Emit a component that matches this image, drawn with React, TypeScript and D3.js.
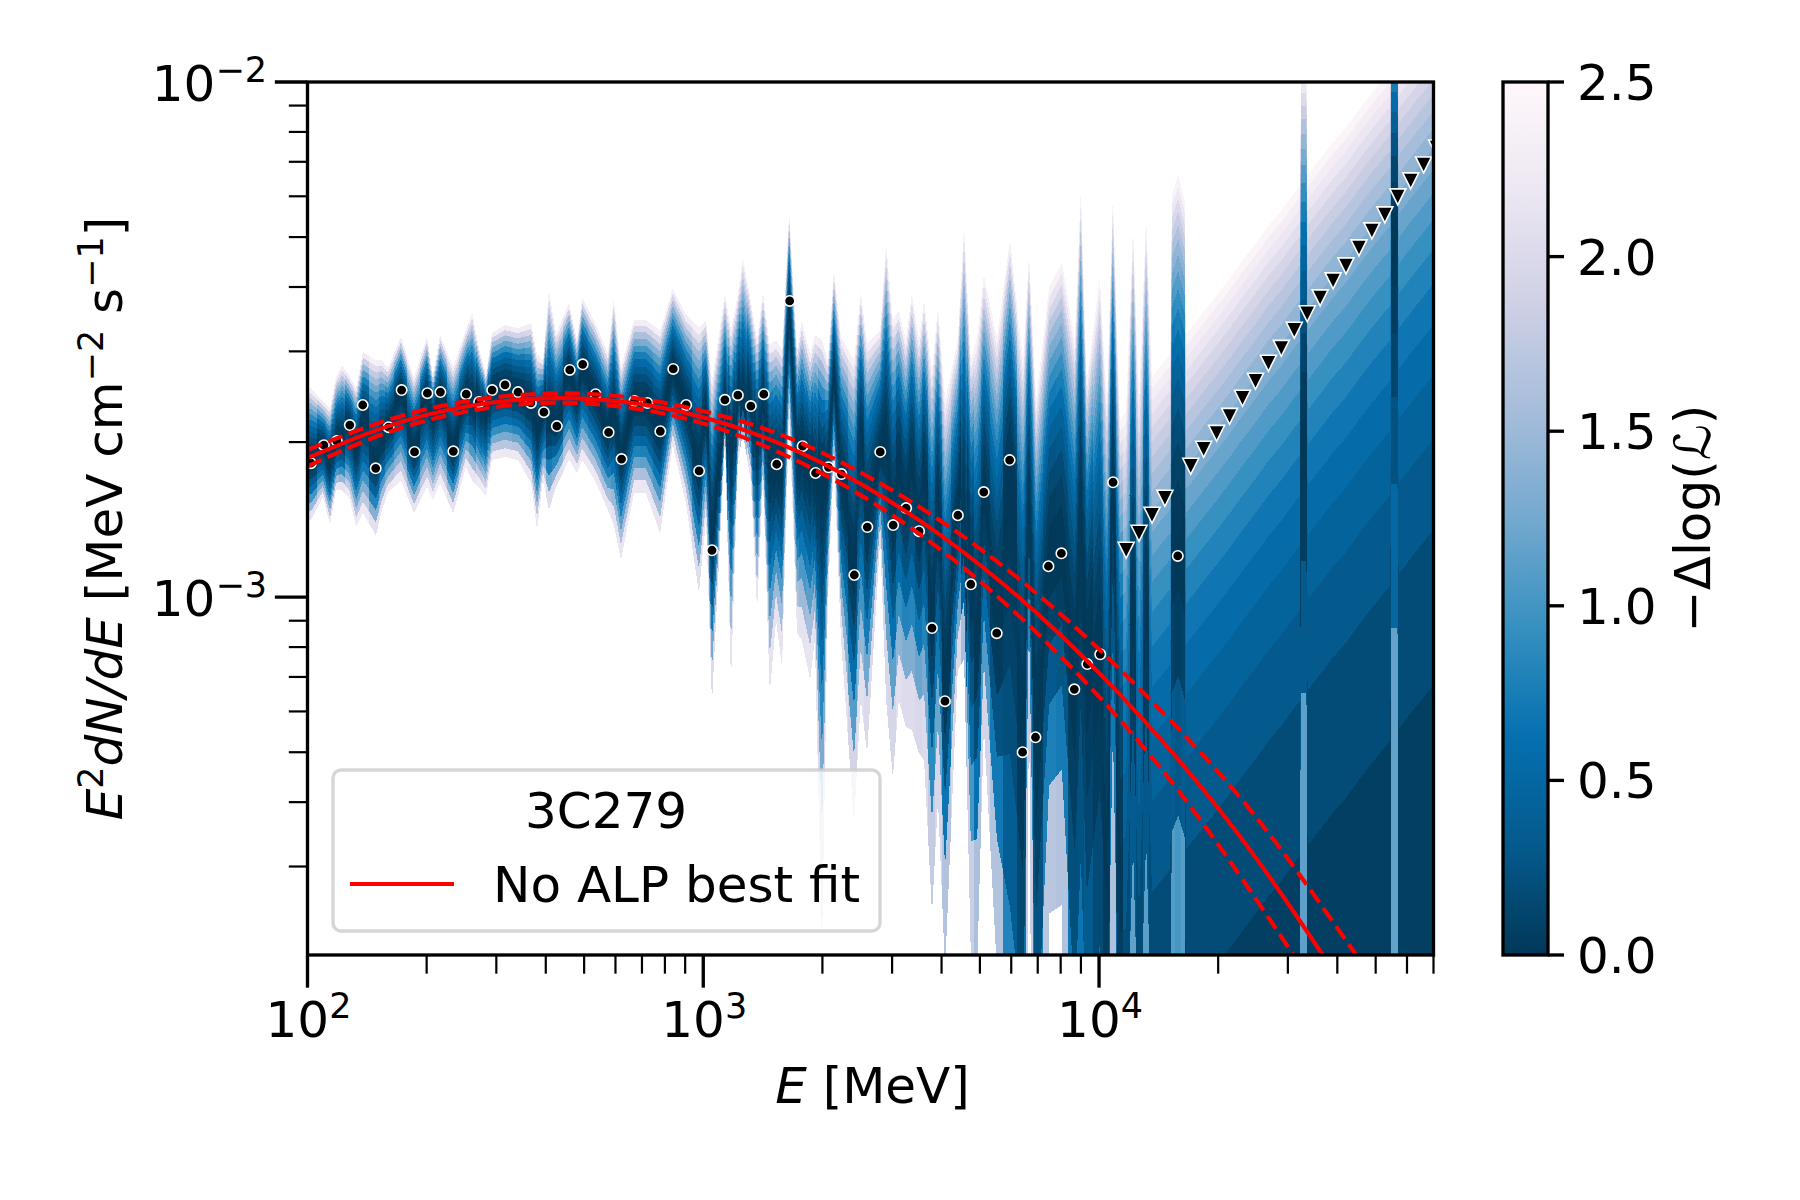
import React, { useEffect, useRef } from "react";
import * as d3 from "d3";

// Spectral bins of 3C279: energy in MeV, log10 of E2dN/dE
const binEnergy = [
  102, 110, 118.6, 127.9, 137.9, 148.7, 160.3, 172.9, 186.4, 200.9, 216.7, 233.6, 251.8, 271.5, 292.8,
  315.6, 340.4, 366.9, 395.6, 426.6, 459.9, 495.9, 534.6, 576.5, 621.6, 670.1, 722.4, 778.9, 839.7, 905.3,
  976.1, 1052, 1134, 1223, 1319, 1422, 1533, 1653, 1782, 1922, 2072, 2234, 2408, 2597, 2800,
  3019, 3255, 3510, 3784, 4080, 4399, 4743, 5114, 5514, 5944, 6410, 6910, 7451, 8033, 8661,
  9338, 10070, 10850, 11710, 12620, 13610, 14670, 15810, 17050, 18380, 19820, 21370, 23040, 24850, 26790,
  28880, 31140, 33570, 36200, 39030, 42070, 45370, 48910, 52740, 56860, 61310, 66090, 71260,
];
const binLogFlux = [
  -2.74, -2.705, -2.697, -2.666, -2.627, -2.75, -2.67, -2.598, -2.718, -2.604, -2.602, -2.717, -2.606, -2.621, -2.598,
  -2.588, -2.602, -2.623, -2.641, -2.668, -2.559, -2.548, -2.606, -2.68, -2.732, -2.619, -2.623, -2.678, -2.557, -2.627,
  -2.755, -2.909, -2.617, -2.608, -2.629, -2.606, -2.742, -2.425, -2.707, -2.759, -2.748, -2.761, -2.957, -2.864, -2.718,
  -2.86, -2.827, -2.872, -3.06, -3.202, -2.841, -2.975, -2.796, -3.07, -2.734, -3.301, -3.272, -2.94, -2.915, -3.179,
  -3.13, -3.111, -2.777, -2.909, -2.876, -2.841, -2.808, -2.92, -2.746, -2.713, -2.682, -2.649, -2.614, -2.581, -2.546,
  -2.517, -2.482, -2.45, -2.419, -2.386, -2.357, -2.322, -2.289, -2.258, -2.223, -2.192, -2.161, -2.128,
];
// bins drawn as upper limits (triangles)
const limitBins = [63, 64, 65, 66, 68, 69, 70, 71, 72, 73, 74, 75, 76, 77, 78, 79, 80, 81, 82, 83, 84, 85, 86, 87];

// Likelihood scan columns: log10 E, and log10 flux of the profile's minimum and of
// the top and bottom of its scan. A null minimum is a limit, scanned from zero flux.
const columnLogE = [
  2.009, 2.039, 2.057, 2.072, 2.087, 2.105, 2.123, 2.14, 2.173, 2.188, 2.203, 2.236, 2.269, 2.302, 2.317,
  2.335, 2.368, 2.4, 2.416, 2.433, 2.451, 2.466, 2.499, 2.532, 2.565, 2.58, 2.595, 2.61, 2.628, 2.661,
  2.681, 2.694, 2.726, 2.759, 2.774, 2.792, 2.825, 2.855, 2.891, 2.923, 2.956, 2.989, 3.007, 3.022, 3.055,
  3.07, 3.088, 3.1, 3.12, 3.136, 3.151, 3.168, 3.184, 3.199, 3.217, 3.237, 3.249, 3.27, 3.282, 3.3,
  3.315, 3.33, 3.348, 3.381, 3.398, 3.414, 3.447, 3.462, 3.479, 3.494, 3.512, 3.527, 3.545, 3.558, 3.578,
  3.593, 3.611, 3.643, 3.659, 3.676, 3.692, 3.709, 3.742, 3.775, 3.808, 3.823, 3.841, 3.874, 3.906, 3.939,
  3.954, 3.969, 4.002, 4.02, 4.035, 4.053, 4.068, 4.086, 4.101, 4.119, 4.134, 4.167, 4.18, 4.184, 4.2,
  4.216, 4.22, 4.232, 4.265, 4.297, 4.33, 4.363, 4.396, 4.429, 4.461, 4.494, 4.507, 4.511, 4.524, 4.527,
  4.557, 4.59, 4.623, 4.656, 4.689, 4.722, 4.735, 4.739, 4.754, 4.757, 4.788, 4.82, 4.853,
];
const columnCentre = [
  -2.74, -2.705, -2.744, -2.697, -2.695, -2.666, -2.715, -2.647, -2.744, -2.695, -2.67, -2.598, -2.718, -2.604, -2.656,
  -2.602, -2.717, -2.606, -2.617, -2.621, -2.647, -2.598, -2.588, -2.602, -2.623, -2.676, -2.641, -2.656, -2.668, -2.559,
  -2.617, -2.548, -2.606, -2.68, -2.637, -2.732, -2.619, -2.623, -2.678, -2.557, -2.627, -2.755, -2.637, -2.909, -2.617,
  -2.734, -2.608, -2.617, -2.629, -2.715, -2.606, -2.753, -2.742, -2.753, -2.425, -2.724, -2.707, -2.753, -2.759, -2.773,
  -2.748, -2.559, -2.761, -2.957, -2.676, -2.864, -2.718, -2.695, -2.86, -2.734, -2.827, -2.734, -2.872, -2.753, -3.06,
  -2.812, -3.202, -2.841, -2.85, -2.975, -3.103, -2.796, -3.07, -2.734, -3.301, -2.812, -3.272, -2.94, -2.915, -3.179,
  -2.812, -3.13, -3.111, -3.588, -2.777, -3.588, null, -3.006, null, -3.006, null, null, null, -2.92, -2.92,
  -2.92, null, null, null, null, null, null, null, null, null, null, null, -2.715, -2.715, null,
  null, null, null, null, null, null, null, -2.3, -2.3, null, null, null, null,
];
const columnTop = [
  -2.594, -2.621, -2.633, -2.573, -2.55, -2.569, -2.594, -2.524, -2.54, -2.54, -2.555, -2.495, -2.573, -2.495, -2.569,
  -2.491, -2.553, -2.482, -2.447, -2.515, -2.569, -2.487, -2.472, -2.478, -2.468, -2.53, -2.54, -2.404, -2.487, -2.429,
  -2.501, -2.419, -2.466, -2.526, -2.419, -2.553, -2.462, -2.462, -2.482, -2.4, -2.452, -2.476, -2.462, -2.579, -2.41,
  -2.482, -2.41, -2.34, -2.423, -2.501, -2.408, -2.511, -2.501, -2.52, -2.252, -2.52, -2.462, -2.53, -2.491, -2.501,
  -2.54, -2.365, -2.495, -2.54, -2.408, -2.507, -2.482, -2.313, -2.462, -2.443, -2.501, -2.41, -2.501, -2.423, -2.559,
  -2.437, -2.617, -2.501, -2.274, -2.54, -2.495, -2.375, -2.495, -2.307, -2.54, -2.332, -2.617, -2.398, -2.35, -2.501,
  -2.206, -2.579, -2.379, -2.617, -2.216, -2.656, -2.909, -2.278, -2.876, -2.262, -2.841, -2.808, -2.796, -2.219, -2.181,
  -2.229, -2.757, -2.746, -2.713, -2.682, -2.649, -2.614, -2.581, -2.546, -2.517, -2.482, -2.47, -1.977, -1.977, -2.449,
  -2.419, -2.386, -2.357, -2.322, -2.289, -2.258, -2.247, -1.8, -1.8, -2.223, -2.192, -2.161, -2.128,
];
const columnBottom = [
  -2.85, -2.806, -2.86, -2.792, -2.792, -2.806, -2.864, -2.837, -2.88, -2.831, -2.798, -2.773, -2.837, -2.786, -2.812,
  -2.779, -2.837, -2.748, -2.773, -2.786, -2.806, -2.734, -2.728, -2.734, -2.779, -2.87, -2.773, -2.831, -2.786, -2.734,
  -2.759, -2.734, -2.773, -2.831, -2.86, -2.928, -2.798, -2.798, -2.876, -2.705, -2.817, -2.992, -2.85, -3.206, -2.695,
  -3.167, -2.734, -2.682, -2.773, -3.025, -2.773, -3.186, -3.045, -3.136, -2.647, -3.07, -3.083, -3.161, -3.083, -3.68,
  -3.006, -2.734, -3.083, -3.439, -3.2, -3.303, -2.889, -3.2, -3.35, -3.2, -3.252, -3.258, -3.303, -3.317, -3.614,
  -3.394, -3.724, -3.142, -3.12, -3.695, -3.724, -3.252, -3.724, -5.5, -5.5, -3.15, -5.5, -3.614, -3.598, -5.5,
  -5.5, -5.5, -5.5, -5.724, -3.588, -5.724, null, -4.171, null, -4.171, null, null, null, -4.3, -4.3,
  -4.3, null, null, null, null, null, null, null, null, null, null, null, -3.88, -3.88, null,
  null, null, null, null, null, null, null, -4.074, -4.074, null, null, null, null,
];

// No ALP best fit and its error band, log10 E against log10 flux
const fitLogE = [2.0, 2.2, 2.4, 2.6, 2.8, 3.0, 3.2, 3.4, 3.6, 3.8, 4.0, 4.2, 4.4, 4.6, 4.8];
const fitCentre = [-2.73, -2.669, -2.63, -2.614, -2.621, -2.651, -2.704, -2.781, -2.88, -3.002, -3.147, -3.315, -3.51, -3.735, -3.97];
const fitUpper = [-2.714, -2.657, -2.62, -2.605, -2.611, -2.639, -2.686, -2.759, -2.852, -2.966, -3.101, -3.255, -3.43, -3.64, -3.86];
const fitLower = [-2.746, -2.681, -2.64, -2.623, -2.631, -2.663, -2.722, -2.803, -2.908, -3.038, -3.193, -3.375, -3.59, -3.825, -4.08];

// PuBu reversed, as in the colour bar
const paletteStops = ["#023858", "#045a8d", "#0570b0", "#3690c0", "#74a9cf", "#a6bddb", "#d0d1e6", "#ece7f2", "#fff7fb"];
const scanSteps = 20;
const maxDelta = 2.5;
const limitDelta = 1.35;

const xMajor = [100, 1000, 10000];
const xMinor = [200, 300, 400, 500, 600, 700, 800, 900, 2000, 3000, 4000, 5000, 6000, 7000, 8000, 9000, 20000, 30000, 40000, 50000, 60000, 70000];
const yMajor = [0.01, 0.001];
const yMinor = [0.0003, 0.0004, 0.0005, 0.0006, 0.0007, 0.0008, 0.0009, 0.002, 0.003, 0.004, 0.005, 0.006, 0.007, 0.008, 0.009];
const barTicks = [0, 0.5, 1, 1.5, 2, 2.5];

// Geometry
const LEFT = 307.5;
const RIGHT = 1433.5;
const TOP = 82;
const BOTTOM = 955;
const BAR_LEFT = 1503;
const BAR_RIGHT = 1548;
const FONT = 50;
const SUP = 35;
const LINE = 4.17;
const SPINE = 3.33;

// -delta log L of one column at a given log flux, Poisson shaped
function columnDelta(i: number, logF: number) {
  const centre = columnCentre[i];
  if (centre === null) return limitDelta * Math.pow(10, logF - columnTop[i]);
  const edge = logF >= centre ? columnTop[i] : columnBottom[i];
  const rEdge = Math.pow(10, edge - centre);
  const n = maxDelta / (rEdge - Math.log(rEdge) - 1);
  const r = Math.pow(10, logF - centre);
  return n * (r - Math.log(r) - 1);
}

// Flux values of one column's scan, evenly spaced in linear flux
function columnScan(i: number) {
  const isLimit = columnCentre[i] === null;
  const hi = Math.pow(10, columnTop[i]) * (isLimit ? maxDelta / limitDelta : 1);
  const lo = isLimit ? 0 : Math.pow(10, columnBottom[i]);
  return d3.range(scanSteps + 1).map((j) => lo + (j * (hi - lo)) / scanSteps);
}

type Part = { t: string; sup?: boolean; italic?: boolean };

function addParts(text: any, parts: Part[]) {
  let shifted = false;
  parts.forEach((p) => {
    const span = text.append("tspan").text(p.t);
    if (p.italic) span.attr("font-style", "italic");
    if (p.sup) {
      span.attr("font-size", SUP);
      if (!shifted) span.attr("dy", -19);
      shifted = true;
    } else if (shifted) {
      span.attr("dy", 19);
      shifted = false;
    }
  });
}

export default function App() {
  const svgRef = useRef<SVGSVGElement>(null);

  useEffect(() => {
    const svg = d3.select(svgRef.current);
    svg.selectAll("*").remove();
    svg.attr("font-family", "'DejaVu Sans'").attr("font-size", FONT);

    const x = d3.scaleLog().domain([100, 70000]).range([LEFT, RIGHT]);
    const y = d3.scaleLog().domain([2.02e-4, 0.01]).range([BOTTOM, TOP]);
    const barY = d3.scaleLinear().domain([0, maxDelta]).range([BOTTOM, TOP]);
    const cmap = d3
      .scaleLinear<string>()
      .domain(paletteStops.map((_, i) => (i / (paletteStops.length - 1)) * maxDelta))
      .range(paletteStops)
      .clamp(true);

    const defs = svg.append("defs");
    defs.append("clipPath").attr("id", "plot-clip").append("rect")
      .attr("x", LEFT).attr("y", TOP).attr("width", RIGHT - LEFT).attr("height", BOTTOM - TOP);

    // Mesh of the likelihood scans: each cell takes the colour of its nearest column
    const columnX = columnLogE.map((e) => x(Math.pow(10, e)));
    const scans = columnLogE.map((_, i) => columnScan(i));
    const rows = scans.map((s) => s.map((f) => y(Math.max(f, 1e-7))));
    const shades = scans.map((s, i) =>
      d3.range(scanSteps).map((j) => columnDelta(i, Math.log10((s[j] + s[j + 1]) / 2))));
    const cells: { d: string; fill: string }[] = [];
    const polygon = d3.line();
    for (let j = 0; j < scanSteps; j++) {
      cells.push({
        d: polygon([[LEFT, rows[0][j]], [columnX[0], rows[0][j]], [columnX[0], rows[0][j + 1]], [LEFT, rows[0][j + 1]]]) + "Z",
        fill: cmap(shades[0][j]),
      });
    }
    for (let i = 0; i + 1 < columnX.length; i++) {
      const xa = columnX[i];
      const xb = columnX[i + 1];
      const xm = (xa + xb) / 2;
      for (let j = 0; j < scanSteps; j++) {
        const m0 = (rows[i][j] + rows[i + 1][j]) / 2;
        const m1 = (rows[i][j + 1] + rows[i + 1][j + 1]) / 2;
        cells.push({
          d: polygon([[xa, rows[i][j]], [xm, m0], [xm, m1], [xa, rows[i][j + 1]]]) + "Z",
          fill: cmap(shades[i][j]),
        });
        cells.push({
          d: polygon([[xm, m0], [xb, rows[i + 1][j]], [xb, rows[i + 1][j + 1]], [xm, m1]]) + "Z",
          fill: cmap(shades[i + 1][j]),
        });
      }
    }
    const plot = svg.append("g").attr("clip-path", "url(#plot-clip)");
    plot.append("g").attr("shape-rendering", "crispEdges").selectAll("path")
      .data(cells)
      .join("path")
      .attr("d", (c) => c.d)
      .attr("fill", (c) => c.fill);

    // Points and upper limits
    const isLimit = (i: number) => limitBins.includes(i);
    const bins = binEnergy.map((e, i) => ({ e, f: Math.pow(10, binLogFlux[i]), i }));
    plot.append("g").selectAll("circle")
      .data(bins.filter((b) => !isLimit(b.i)))
      .join("circle")
      .attr("cx", (b) => x(b.e))
      .attr("cy", (b) => y(b.f))
      .attr("r", 5.2)
      .attr("fill", "#000")
      .attr("stroke", "#fff")
      .attr("stroke-width", 1.6);
    const triangle = d3.line()([[-8, -8], [8, -8], [0, 8]]) + "Z";
    plot.append("g").selectAll("path")
      .data(bins.filter((b) => isLimit(b.i)))
      .join("path")
      .attr("d", triangle)
      .attr("transform", (b) => `translate(${x(b.e)},${y(b.f)})`)
      .attr("fill", "#000")
      .attr("stroke", "#fff")
      .attr("stroke-width", 1.6);

    // Best fit and error band
    const fitLine = d3.line<number>()
      .x((_, i) => x(Math.pow(10, fitLogE[i])))
      .y((v) => y(Math.pow(10, v)))
      .curve(d3.curveNatural);
    [fitLower, fitUpper, fitCentre].forEach((series) => {
      plot.append("path")
        .attr("d", fitLine(series))
        .attr("fill", "none")
        .attr("stroke", "#ff0000")
        .attr("stroke-width", LINE)
        .attr("stroke-dasharray", series === fitCentre ? null : "15.4 6.7");
    });

    // Spines
    svg.append("rect")
      .attr("x", LEFT).attr("y", TOP).attr("width", RIGHT - LEFT).attr("height", BOTTOM - TOP)
      .attr("fill", "none").attr("stroke", "#000").attr("stroke-width", SPINE);

    // Ticks
    const drawAxis = (axis: any, transform: string, width: number) => {
      const g = svg.append("g").attr("transform", transform).call(axis);
      g.select(".domain").remove();
      g.selectAll("line").attr("stroke", "#000").attr("stroke-width", width);
      g.selectAll("text").remove();
    };
    const bottom = `translate(0,${BOTTOM + SPINE / 2 - 1})`;
    const left = `translate(${LEFT - SPINE / 2 + 1},0)`;
    drawAxis(d3.axisBottom(x).tickValues(xMajor).tickSize(32).offset(0), bottom, SPINE);
    drawAxis(d3.axisBottom(x).tickValues(xMinor).tickSize(18).offset(0), bottom, 2.2);
    drawAxis(d3.axisLeft(y).tickValues(yMajor).tickSize(32).offset(0), left, SPINE);
    drawAxis(d3.axisLeft(y).tickValues(yMinor).tickSize(18).offset(0), left, 2.2);

    // Tick labels
    xMajor.forEach((v) => {
      const text = svg.append("text").attr("x", x(v) + 1).attr("y", 1037).attr("text-anchor", "middle");
      addParts(text, [{ t: "10" }, { t: String(Math.round(Math.log10(v))), sup: true }]);
    });
    yMajor.forEach((v) => {
      const text = svg.append("text").attr("x", 267).attr("y", y(v) + 19).attr("text-anchor", "end");
      addParts(text, [{ t: "10" }, { t: "\u2212" + Math.abs(Math.round(Math.log10(v))), sup: true }]);
    });

    // Axis titles
    const xTitle = svg.append("text").attr("x", (LEFT + RIGHT) / 2 + 2).attr("y", 1103).attr("text-anchor", "middle");
    addParts(xTitle, [{ t: "E", italic: true }, { t: " [MeV]" }]);
    const yTitle = svg.append("text")
      .attr("transform", `translate(122,${(TOP + BOTTOM) / 2}) rotate(-90)`)
      .attr("text-anchor", "middle");
    addParts(yTitle, [
      { t: "E", italic: true },
      { t: "2", sup: true },
      { t: "dN/dE", italic: true },
      { t: " [MeV cm" },
      { t: "\u22122", sup: true },
      { t: " s" },
      { t: "\u22121", sup: true },
      { t: "]" },
    ]);

    // Legend
    svg.append("rect")
      .attr("x", 333).attr("y", 770).attr("width", 547).attr("height", 161).attr("rx", 8)
      .attr("fill", "#fff").attr("fill-opacity", 0.8)
      .attr("stroke", "#ccc").attr("stroke-opacity", 0.8).attr("stroke-width", SPINE);
    svg.append("text").attr("x", 606).attr("y", 828).attr("text-anchor", "middle").text("3C279");
    svg.append("line")
      .attr("x1", 350).attr("x2", 454).attr("y1", 884).attr("y2", 884)
      .attr("stroke", "#ff0000").attr("stroke-width", LINE);
    svg.append("text").attr("x", 493).attr("y", 902).text("No ALP best fit");

    // Colour bar
    const gradient = defs.append("linearGradient").attr("id", "bar-fill")
      .attr("x1", 0).attr("x2", 0).attr("y1", 1).attr("y2", 0);
    paletteStops.forEach((c, i) => {
      gradient.append("stop").attr("offset", i / (paletteStops.length - 1)).attr("stop-color", c);
    });
    svg.append("rect")
      .attr("x", BAR_LEFT).attr("y", TOP).attr("width", BAR_RIGHT - BAR_LEFT).attr("height", BOTTOM - TOP)
      .attr("fill", "url(#bar-fill)").attr("stroke", "#000").attr("stroke-width", SPINE);
    drawAxis(d3.axisRight(barY).tickValues(barTicks).tickSize(16).offset(0), `translate(${BAR_RIGHT},0)`, SPINE);
    barTicks.forEach((v) => {
      svg.append("text").attr("x", 1577).attr("y", barY(v) + 18).text(v.toFixed(1));
    });
    const barTitle = svg.append("text")
      .attr("transform", `translate(1710,${(TOP + BOTTOM) / 2}) rotate(-90)`)
      .attr("text-anchor", "middle");
    addParts(barTitle, [{ t: "\u2212\u0394log(" }, { t: "\u2112", italic: true }, { t: ")" }]);
  }, []);

  return <svg ref={svgRef} width={1800} height={1200} style={{ position: "absolute", left: 0, top: 0, background: "#fff" }} />;
}
